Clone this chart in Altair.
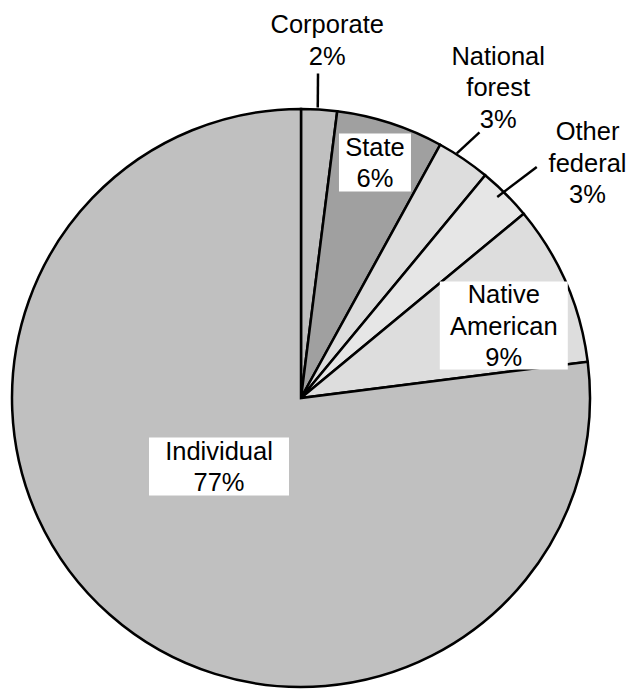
import math
import altair as alt
import pandas as pd

# Forest land ownership shares (percent), clockwise from 12 o'clock
categories = ["Corporate", "State", "National forest", "Other federal", "Native American", "Individual"]
shares = [2, 6, 3, 3, 9, 77]
label_names = ["Corporate", "State", "National\nforest", "Other\nfederal", "Native\nAmerican", "Individual"]

# Slice fills
fills = ["#c0c0c0", "#a0a0a0", "#dddddd", "#e6e6e6", "#dddddd", "#c0c0c0"]

# Label placement in polar terms (degrees clockwise from top, pixels from centre)
label_angle = [4.2, 17.5, 32.5, 50.75, 70.6, 229.7]
label_radius = [358, 246, 367, 370, 215, 107.5]
# Half-size of the white box behind in-slice labels (0 = no box)
box_half_w = [0, 36, 0, 0, 64, 70]
box_half_h = [0, 29, 0, 0, 44, 29]

# Leader lines: (angle, radius) of the outer and inner ends
leader_outer = [(3.0, 325), (33.9, 320), (45.6, 330)]
leader_inner = [(3.3, 291), (32.5, 290), (44.3, 281)]

R = 289  # pie radius; the plot area is a 2R square
SIZE = 2 * R
LINE_H = 31.5


def polar(angle_deg, r):
    a = math.radians(angle_deg)
    return R + r * math.sin(a), R - r * math.cos(a)


slices = pd.DataFrame({
    "category": categories,
    "share": shares,
    "fill": fills,
    "order": list(range(len(categories))),
})

lab_rows = []
for i, cat in enumerate(categories):
    x, y = polar(label_angle[i], label_radius[i])
    text = f"{label_names[i]}\n{shares[i]}%"
    n_lines = text.count("\n") + 1
    lab_rows.append({
        "category": cat,
        "text": text,
        "x": x,
        # first line sits so that the whole block is centred on (x, y)
        "ty": y - (n_lines - 1) * LINE_H / 2,
        "bx": x - box_half_w[i], "bx2": x + box_half_w[i],
        "by": y - box_half_h[i] - 1, "by2": y + box_half_h[i] - 1,
        "boxed": box_half_w[i] > 0,
    })
labels = pd.DataFrame(lab_rows)

lead_rows = []
for (ao, ro), (ai, ri) in zip(leader_outer, leader_inner):
    x1, y1 = polar(ao, ro)
    x2, y2 = polar(ai, ri)
    lead_rows.append({"x": x1, "y": y1, "x2": x2, "y2": y2})
leaders = pd.DataFrame(lead_rows)

pie = alt.Chart(slices).mark_arc(stroke="black", strokeWidth=2.5).encode(
    theta=alt.Theta("share:Q", stack=True),
    color=alt.Color("fill:N", scale=None),
    order=alt.Order("order:Q"),
)

boxes = alt.Chart(labels).transform_filter("datum.boxed").mark_rect(
    fill="white", strokeWidth=0
).encode(
    x=alt.X("bx:Q", scale=None),
    x2="bx2:Q",
    y=alt.Y("by:Q", scale=None),
    y2="by2:Q",
)

rules = alt.Chart(leaders).mark_rule(color="black", strokeWidth=2.5).encode(
    x=alt.X("x:Q", scale=None),
    y=alt.Y("y:Q", scale=None),
    x2="x2:Q",
    y2="y2:Q",
)

texts = alt.Chart(labels).mark_text(
    font="Liberation Sans",
    fontSize=25.5,
    lineHeight=LINE_H,
    lineBreak="\n",
    align="center",
    baseline="middle",
    color="black",
).encode(
    x=alt.X("x:Q", scale=None),
    y=alt.Y("ty:Q", scale=None),
    text="text:N",
)

chart = alt.layer(pie, boxes, rules, texts).properties(
    width=SIZE,
    height=SIZE,
    background="white",
    padding={"left": 12, "top": 109, "right": 628 - 12 - SIZE, "bottom": 689 - 109 - SIZE},
    autosize=alt.AutoSizeParams(type="none"),
).configure_view(strokeWidth=0)

chart.save("out.html", embed_options={"renderer": "svg", "actions": False})
